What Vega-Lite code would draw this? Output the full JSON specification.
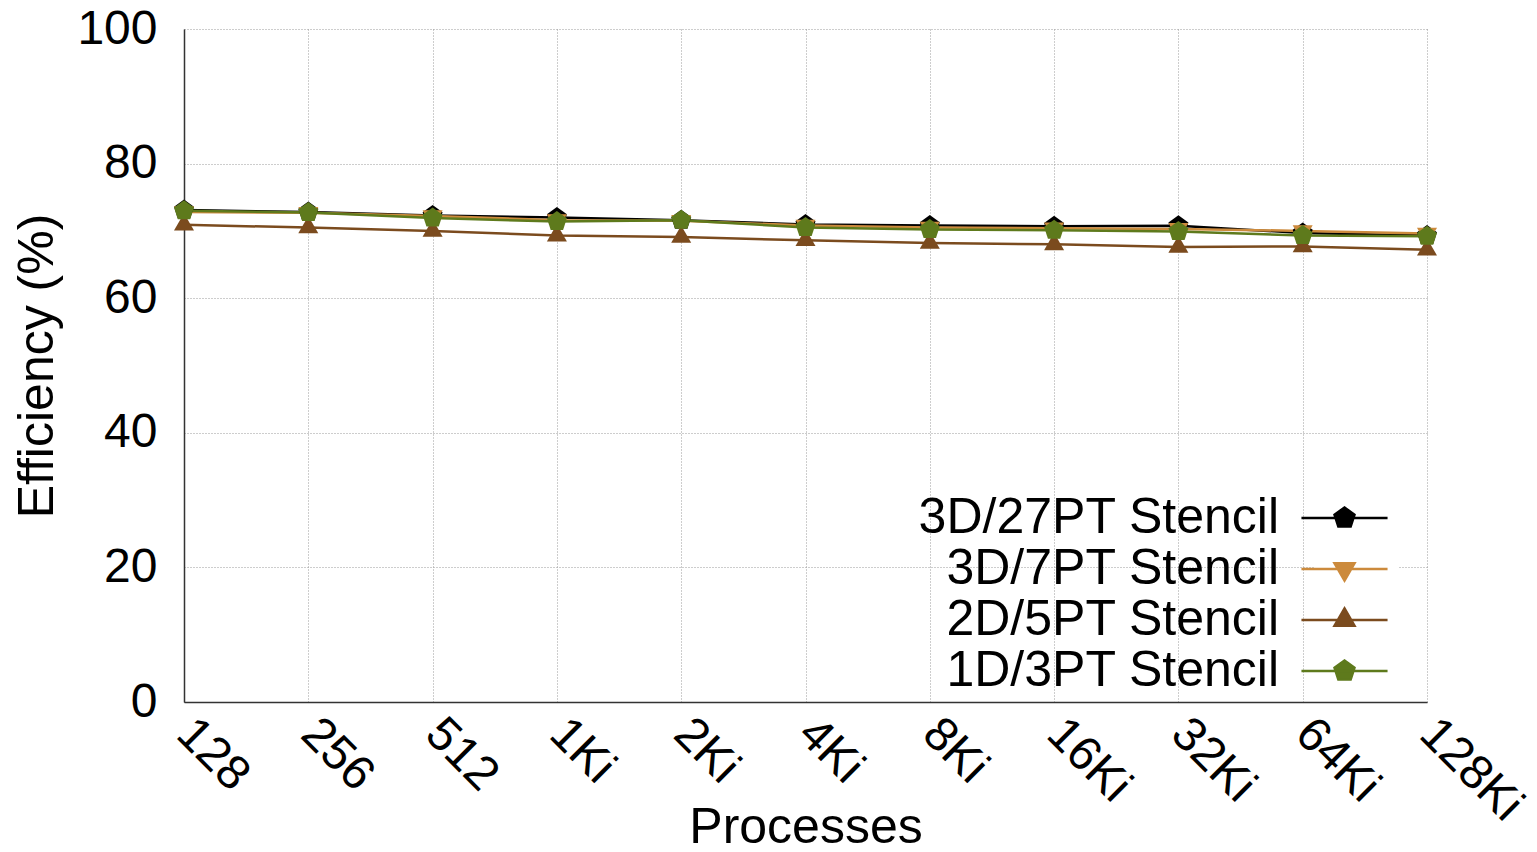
{
  "$schema": "https://vega.github.io/schema/vega-lite/v6.json",
  "width": 1243,
  "height": 673,
  "autosize": {"type": "none"},
  "padding": {"left": 184, "top": 29, "right": 110, "bottom": 150},
  "background": "white",
  "data": {"values": [
    {"procs": "128", "series": "3D/27PT Stencil", "eff": 73.1},
    {"procs": "256", "series": "3D/27PT Stencil", "eff": 72.8},
    {"procs": "512", "series": "3D/27PT Stencil", "eff": 72.3},
    {"procs": "1Ki", "series": "3D/27PT Stencil", "eff": 72.0},
    {"procs": "2Ki", "series": "3D/27PT Stencil", "eff": 71.6},
    {"procs": "4Ki", "series": "3D/27PT Stencil", "eff": 70.95},
    {"procs": "8Ki", "series": "3D/27PT Stencil", "eff": 70.8},
    {"procs": "16Ki", "series": "3D/27PT Stencil", "eff": 70.7},
    {"procs": "32Ki", "series": "3D/27PT Stencil", "eff": 70.75},
    {"procs": "64Ki", "series": "3D/27PT Stencil", "eff": 69.7},
    {"procs": "128Ki", "series": "3D/27PT Stencil", "eff": 69.3},
    {"procs": "128", "series": "3D/7PT Stencil", "eff": 72.8},
    {"procs": "256", "series": "3D/7PT Stencil", "eff": 72.7},
    {"procs": "512", "series": "3D/7PT Stencil", "eff": 72.2},
    {"procs": "1Ki", "series": "3D/7PT Stencil", "eff": 71.6},
    {"procs": "2Ki", "series": "3D/7PT Stencil", "eff": 71.5},
    {"procs": "4Ki", "series": "3D/7PT Stencil", "eff": 70.8},
    {"procs": "8Ki", "series": "3D/7PT Stencil", "eff": 70.5},
    {"procs": "16Ki", "series": "3D/7PT Stencil", "eff": 70.4},
    {"procs": "32Ki", "series": "3D/7PT Stencil", "eff": 70.3},
    {"procs": "64Ki", "series": "3D/7PT Stencil", "eff": 70.0},
    {"procs": "128Ki", "series": "3D/7PT Stencil", "eff": 69.6},
    {"procs": "128", "series": "2D/5PT Stencil", "eff": 70.9},
    {"procs": "256", "series": "2D/5PT Stencil", "eff": 70.5},
    {"procs": "512", "series": "2D/5PT Stencil", "eff": 70.0},
    {"procs": "1Ki", "series": "2D/5PT Stencil", "eff": 69.3},
    {"procs": "2Ki", "series": "2D/5PT Stencil", "eff": 69.1},
    {"procs": "4Ki", "series": "2D/5PT Stencil", "eff": 68.6},
    {"procs": "8Ki", "series": "2D/5PT Stencil", "eff": 68.2},
    {"procs": "16Ki", "series": "2D/5PT Stencil", "eff": 68.0},
    {"procs": "32Ki", "series": "2D/5PT Stencil", "eff": 67.6},
    {"procs": "64Ki", "series": "2D/5PT Stencil", "eff": 67.7},
    {"procs": "128Ki", "series": "2D/5PT Stencil", "eff": 67.2},
    {"procs": "128", "series": "1D/3PT Stencil", "eff": 73.0},
    {"procs": "256", "series": "1D/3PT Stencil", "eff": 72.75},
    {"procs": "512", "series": "1D/3PT Stencil", "eff": 71.9},
    {"procs": "1Ki", "series": "1D/3PT Stencil", "eff": 71.4},
    {"procs": "2Ki", "series": "1D/3PT Stencil", "eff": 71.6},
    {"procs": "4Ki", "series": "1D/3PT Stencil", "eff": 70.5},
    {"procs": "8Ki", "series": "1D/3PT Stencil", "eff": 70.2},
    {"procs": "16Ki", "series": "1D/3PT Stencil", "eff": 70.1},
    {"procs": "32Ki", "series": "1D/3PT Stencil", "eff": 69.9},
    {"procs": "64Ki", "series": "1D/3PT Stencil", "eff": 69.3},
    {"procs": "128Ki", "series": "1D/3PT Stencil", "eff": 69.2}
  ]},
  "encoding": {
    "x": {
      "field": "procs",
      "type": "ordinal",
      "scale": {"type": "point", "padding": 0, "domain": ["128", "256", "512", "1Ki", "2Ki", "4Ki", "8Ki", "16Ki", "32Ki", "64Ki", "128Ki"]},
      "axis": {
        "title": "Processes",
        "labelAngle": 45,
        "labelAlign": "left",
        "labelBaseline": "middle",
        "labelPadding": 24,
        "titleY": 140,
        "titleBaseline": "alphabetic"
      }
    },
    "y": {
      "field": "eff",
      "type": "quantitative",
      "scale": {"domain": [0, 100], "nice": false},
      "axis": {
        "title": "Efficiency (%)",
        "values": [0, 20, 40, 60, 80, 100],
        "labelPadding": 27,
        "titleX": -132,
        "titleY": 336.5,
        "titleBaseline": "alphabetic"
      }
    }
  },
  "layer": [
    {
      "mark": {"type": "line", "strokeWidth": 2.5},
      "encoding": {
        "color": {
          "field": "series", "type": "nominal",
          "scale": {"domain": ["3D/27PT Stencil", "3D/7PT Stencil", "2D/5PT Stencil", "1D/3PT Stencil"], "range": ["#000000", "#cc8a3c", "#7b4b1e", "#5e7a1c"]},
          "legend": null
        }
      }
    },
    {
      "mark": {"type": "point", "filled": true, "opacity": 1, "size": 441, "strokeWidth": 0},
      "encoding": {
        "color": {
          "field": "series", "type": "nominal",
          "scale": {"domain": ["3D/27PT Stencil", "3D/7PT Stencil", "2D/5PT Stencil", "1D/3PT Stencil"], "range": ["#000000", "#cc8a3c", "#7b4b1e", "#5e7a1c"]},
          "legend": null
        },
        "shape": {
          "field": "series", "type": "nominal",
          "scale": {"domain": ["3D/27PT Stencil", "3D/7PT Stencil", "2D/5PT Stencil", "1D/3PT Stencil"], "range": [
            "M0,-1L0.951,-0.309L0.588,0.809L-0.588,0.809L-0.951,-0.309Z",
            "M0,1.1L0.953,-0.55L-0.953,-0.55Z",
            "M0,-1.1L0.953,0.55L-0.953,0.55Z",
            "M0,-1L0.951,-0.309L0.588,0.809L-0.588,0.809L-0.951,-0.309Z"
          ]},
          "legend": null
        }
      }
    },
    {
      "transform": [{"filter": "datum.eff > 1000"}],
      "mark": {"type": "point", "filled": true, "opacity": 1, "size": 441, "strokeWidth": 2.5},
      "encoding": {
        "color": {
          "field": "series", "type": "nominal",
          "scale": {"domain": ["3D/27PT Stencil", "3D/7PT Stencil", "2D/5PT Stencil", "1D/3PT Stencil"], "range": ["#000000", "#cc8a3c", "#7b4b1e", "#5e7a1c"]},
          "legend": {"title": null}
        },
        "stroke": {
          "field": "series", "type": "nominal",
          "scale": {"domain": ["3D/27PT Stencil", "3D/7PT Stencil", "2D/5PT Stencil", "1D/3PT Stencil"], "range": ["#000000", "#cc8a3c", "#7b4b1e", "#5e7a1c"]},
          "legend": {"title": null}
        },
        "shape": {
          "field": "series", "type": "nominal",
          "scale": {"domain": ["3D/27PT Stencil", "3D/7PT Stencil", "2D/5PT Stencil", "1D/3PT Stencil"], "range": [
            "M-4.1,0H4.1M0,-1L0.951,-0.309L0.588,0.809L-0.588,0.809L-0.951,-0.309Z",
            "M-4.1,0H4.1M0,1.1L0.953,-0.55L-0.953,-0.55Z",
            "M-4.1,0H4.1M0,-1.1L0.953,0.55L-0.953,0.55Z",
            "M-4.1,0H4.1M0,-1L0.951,-0.309L0.588,0.809L-0.588,0.809L-0.951,-0.309Z"
          ]},
          "legend": {"title": null}
        }
      }
    }
  ],
  "resolve": {"scale": {"color": "independent", "shape": "independent", "stroke": "independent"}},
  "config": {
    "view": {"stroke": null},
    "font": "Liberation Sans",
    "axis": {
      "labelFont": "Liberation Sans",
      "labelFontSize": 48,
      "labelColor": "#000000",
      "titleFont": "Liberation Sans",
      "titleFontSize": 50,
      "titleFontWeight": "normal",
      "titleColor": "#000000",
      "domainColor": "#333333",
      "domainWidth": 1.5,
      "ticks": false,
      "grid": true,
      "gridColor": "#9a9a9a",
      "gridDash": [1, 2],
      "gridWidth": 1,
      "labelOverlap": false,
      "labelFlush": false
    },
    "legend": {
      "orient": "none",
      "legendX": 1130.5,
      "legendY": 459,
      "fillColor": "white",
      "padding": 5,
      "labelFont": "Liberation Sans",
      "labelFontSize": 50,
      "labelColor": "#000000",
      "labelLimit": 0,
      "labelAlign": "right",
      "labelBaseline": "middle",
      "labelOffset": -90.5,
      "symbolSize": 441,
      "symbolOffset": 0,
      "symbolStrokeWidth": 2.5,
      "symbolOpacity": 1,
      "rowPadding": 1
    }
  }
}
